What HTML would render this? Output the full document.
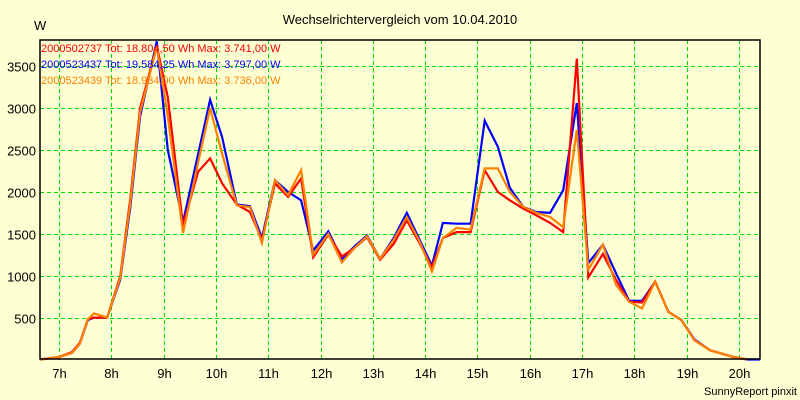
<!DOCTYPE html>
<html><head><meta charset="utf-8"><style>
body{margin:0;background:#ffffd4;}
svg{display:block;font-family:"Liberation Sans",sans-serif;}
</style></head><body>
<svg id="chart" width="800" height="400" viewBox="0 0 800 400">
<rect x="0" y="0" width="800" height="400" fill="#ffffd4"/>
<text x="400" y="24" text-anchor="middle" font-size="13" fill="#000">Wechselrichtervergleich vom 10.04.2010</text>
<text x="34" y="30" font-size="13" fill="#000">W</text>
<g id="grid"></g>
<g id="yticks"></g>
<g id="xticks"></g>
<g id="series"></g>
<rect x="40" y="40" width="720" height="319" fill="none" stroke="#000" stroke-width="1.5"/>
<g font-size="11">
<text x="41" y="52" fill="#ff0000">2000502737 Tot: 18.804,50 Wh Max: 3.741,00 W</text>
<text x="41" y="68" fill="#0000ff">2000523437 Tot: 19.584,25 Wh Max: 3.797,00 W</text>
<text x="41" y="84" fill="#ff8000">2000523439 Tot: 18.934,00 Wh Max: 3.736,00 W</text>
</g>
<text x="797" y="395" text-anchor="end" font-size="11" fill="#000">SunnyReport pinxit</text>
</svg>
<script>
const times=[6.64,7.0,7.25,7.4,7.55,7.67,7.92,8.17,8.36,8.55,8.87,9.08,9.37,9.66,9.89,10.12,10.4,10.65,10.88,11.13,11.38,11.63,11.86,12.15,12.41,12.65,12.89,13.14,13.4,13.65,13.9,14.13,14.34,14.6,14.87,15.14,15.39,15.62,15.88,16.13,16.39,16.64,16.9,17.12,17.4,17.65,17.9,18.15,18.4,18.65,18.9,19.15,19.45,19.9,20.15,20.4];
const redValues=[0,30,90,200,480,500,500,990,1900,3000,3741,3130,1600,2240,2400,2100,1850,1760,1430,2100,1940,2160,1220,1490,1230,1330,1460,1190,1380,1660,1380,1100,1450,1520,1520,2260,2000,1900,1800,1720,1630,1520,3590,980,1260,950,690,680,930,570,470,230,110,30,0,null];
const blueValues=[0,30,80,190,470,500,500,950,1800,2900,3797,2500,1640,2450,3100,2650,1850,1830,1450,2140,2000,1900,1300,1530,1200,1350,1480,1200,1450,1750,1420,1120,1630,1620,1620,2850,2540,2050,1820,1760,1750,2020,3060,1150,1370,1030,700,700,930,570,470,240,110,30,0,0];
const orangeValues=[0,30,80,190,480,550,500,970,1850,2950,3736,2900,1510,2350,3000,2450,1840,1820,1390,2140,1960,2260,1250,1500,1160,1330,1470,1200,1430,1700,1400,1050,1450,1570,1550,2280,2280,2000,1820,1750,1700,1580,2740,1070,1370,890,690,610,930,570,470,230,110,30,0,null];
const yTickValues=[500,1000,1500,2000,2500,3000,3500];
const xTickHours=[7,8,9,10,11,12,13,14,15,16,17,18,19,20];
const xTickLabels=["7h","8h","9h","10h","11h","12h","13h","14h","15h","16h","17h","18h","19h","20h"];

const NS="http://www.w3.org/2000/svg";
function xScale(h){return 59+(h-7)*52.3;}
function yScale(v){return 359.5-v*41.9/500;}
function mk(tag,attrs,parent){const e=document.createElementNS(NS,tag);for(const k in attrs)e.setAttribute(k,attrs[k]);parent.appendChild(e);return e;}
const grid=document.getElementById('grid'),yt=document.getElementById('yticks'),xt=document.getElementById('xticks'),ser=document.getElementById('series');
yTickValues.forEach(v=>{
  const y=Math.round(yScale(v))+0.5;
  const l=mk('line',{x1:40,x2:760,y1:y,y2:y,stroke:'#00e000','stroke-width':1,'stroke-dasharray':'4,3'},grid);
  
  
  const t=mk('text',{x:36,y:y+5,'text-anchor':'end','font-size':13,fill:'#000'},yt);
  t.textContent=v;
  
  
});
xTickHours.forEach((h,i)=>{
  const x=Math.round(xScale(h))+0.5;
  const l=mk('line',{x1:x,x2:x,y1:40,y2:359,stroke:'#00e000','stroke-width':1,'stroke-dasharray':'4,3'},grid);
  
  
  const t=mk('text',{x:x,y:378,'text-anchor':'middle','font-size':13,fill:'#000'},xt);
  t.textContent=xTickLabels[i];
  
  
});
function drawSeries(vals,color,name){
  let d='';let started=false;
  vals.forEach((v,i)=>{if(v===null)return;d+=(started?'L':'M')+xScale(times[i]).toFixed(1)+','+yScale(v).toFixed(1);started=true;});
  const p=mk('path',{d:d,fill:'none',stroke:color,'stroke-width':2.2,'stroke-linejoin':'miter'},ser);
  
  
}
drawSeries(blueValues,'#0000ff','series-line-2000523437');
drawSeries(redValues,'#ff0000','series-line-2000502737');
drawSeries(orangeValues,'#ff8000','series-line-2000523439');
</script>
</body></html>
